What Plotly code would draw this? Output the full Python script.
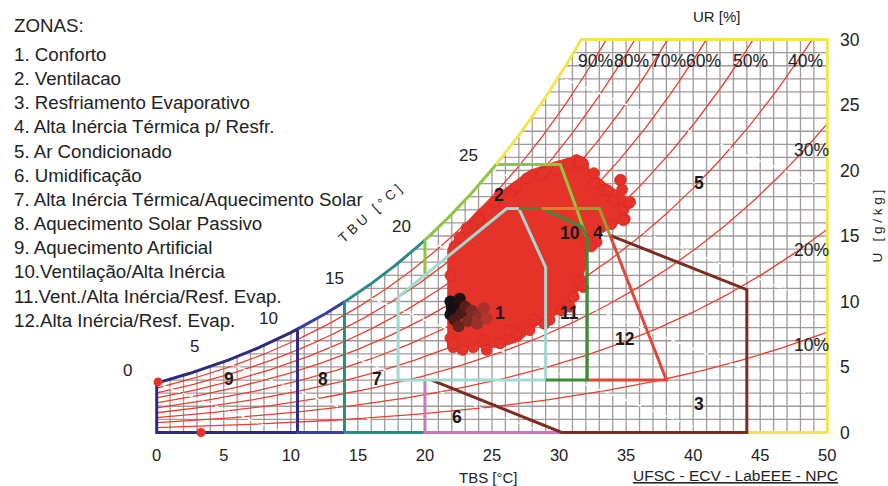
import numpy as np
import plotly.graph_objects as go

# ------------------------------------------------------------------ data
tbs_ticks = [0, 5, 10, 15, 20, 25, 30, 35, 40, 45, 50]
w_ticks = [0, 5, 10, 15, 20, 25, 30]
rh_levels = [10, 20, 30, 40, 50, 60, 70, 80, 90]
tbu_levels = [0, 5, 10, 15, 20, 25, 30]

zone_titles = ["ZONAS:", "1. Conforto", "2. Ventilacao", "3. Resfriamento Evaporativo",
               "4. Alta Inércia Térmica p/ Resfr.", "5. Ar Condicionado", "6. Umidificação",
               "7. Alta Inércia Térmica/Aquecimento Solar", "8. Aquecimento Solar Passivo",
               "9. Aquecimento Artificial", "10.Ventilação/Alta Inércia",
               "11.Vent./Alta Inércia/Resf. Evap.", "12.Alta Inércia/Resf. Evap."]

zone_label_text = ["1", "2", "3", "4", "5", "6", "7", "8", "9", "10", "11", "12"]
zone_label_tbs = [25.6, 25.5, 40.4, 32.9, 40.4, 22.4, 16.4, 12.4, 5.4, 30.8, 30.8, 34.9]
zone_label_w = [9.1, 18.1, 2.2, 15.2, 19.05, 1.2, 4.1, 4.1, 4.1, 15.2, 9.1, 7.1]

# zone boundaries (TBS degC, U g/kg)
zone1_tbs = [18, 18, 26.1, 27.0, 29.0, 29.0, 18]
zone1_w = [4, 10.35, 17.1, 17.1, 12.6, 4, 4]
zone2_left_tbs = [20, 20]
zone2_left_w = [12.0, None]          # second point on saturation
zone2_top_w = 20.45
zone2_right_tbs = [30.1, 31.3, 32.0]
zone2_right_w = [20.45, 17.1, 15.0]
zone10_tbs = [27.0, 28.7, 31.7, 32.1, 32.1, 29.0]
zone10_w = [17.1, 17.1, 15.7, 14.9, 4.0, 4.0]
zone4_tbs = [28.7, 31.3]
zone4_w = [17.1, 17.1]
zone4b_tbs = [31.3, 33.0, 33.8]
zone4b_w = [17.1, 17.1, 15.05]
zone12_tbs = [33.8, 38.0, 32.1]
zone12_w = [15.05, 4.0, 4.0]
zone3_tbs = [33.8, 44.0, 44.0, 30.2, 20.5]
zone3_w = [15.05, 10.9, 0, 0, 4.0]
zone6_tbs = [20, 20, 30.2]
zone6_w = [4.0, 0, 0]
zone9_limit = 10.5
zone8_limit = 14.0
zone7_limit = 20.0

# measured data cloud (outline + scattered points)
cloud_tbs = [21.7, 21.7, 22.4, 23.1, 24.0, 25.2, 26.5, 27.8, 29.5, 30.9, 31.9, 32.3, 33.5,
             35.0, 35.0, 34.5, 32.8, 32.1, 32.1, 31.8, 31.6, 30.8, 29.8, 28.1, 27.1, 25.6, 21.7]
cloud_w = [6.5, 14.0, 15.0, 16.0, 17.0, 18.0, 19.0, 20.0, 20.6, 21.0, 21.0, 20.0, 19.0,
           18.0, 17.0, 16.0, 15.0, 14.0, 13.0, 12.0, 11.0, 10.0, 9.0, 8.0, 7.0, 6.5, 6.5]
dots_tbs = [34.55, 34.7, 34.9, 34.8, 32.8, 32.4, 31.3, 31.8, 30.7, 29.8, 28.6, 27.6, 26.5,
            25.2, 24.1, 23.5, 22.6, 22.2, 26.8, 27.8, 29.3, 25.6, 23.6, 22.1, 31.1, 31.6,
            34.05, 33.3, 32.6, 21.9, 21.9, 22.8, 24.6, 28.9, 30.2, 33.9, 35.2,
            23.1, 24.0, 25.6, 26.8, 28.8, 31.6, 32.6, 33.6, 34.6, 35.3, 34.8, 32.1, 31.8,
            30.8, 28.1, 26.3, 24.35, 22.1]
dots_w = [19.26, 18.55, 16.3, 17.0, 14.55, 14.2, 20.8, 20.5, 20.5, 20.0, 19.6, 19.4, 18.5,
          17.6, 16.3, 15.7, 14.9, 14.2, 7.56, 7.8, 8.6, 6.8, 6.5, 6.5, 10.35, 11.6,
          17.7, 18.5, 19.1, 12.0, 7.2, 6.3, 6.3, 8.3, 9.3, 15.9, 17.5,
          15.6, 16.3, 18.2, 18.75, 19.8, 20.65, 19.8, 18.5, 19.3, 17.6, 16.2, 14.7, 11.1,
          9.6, 8.6, 7.8, 7.05, 6.8]
dark_tbs = [21.9, 22.0, 22.4, 21.9, 22.6, 22.2, 22.7, 23.0, 23.5, 23.2, 22.5, 24.0, 24.4, 23.9, 24.6]
dark_w = [10.0, 9.5, 9.8, 9.0, 10.2, 8.6, 9.1, 9.6, 9.3, 8.5, 8.1, 9.0, 9.5, 8.3, 8.7]
dark_col = ["#111111", "#111111", "#1a1010", "#161010", "#201212", "#4a1a18", "#4a1a18",
            "#5a1e1b", "#7a2a24", "#7a2a24", "#6a2420", "#8e2e27", "#a8322a", "#9a302a", "#b4332a"]
outlier_tbs = [0.1, 3.3]
outlier_w = [3.86, 0.0]

# ------------------------------------------------------------------ psychrometrics
P_ATM = 101.325


def psat(t):
    return 0.61078 * np.exp(17.27 * t / (t + 237.3))


def w_rh(t, rh):
    p = rh / 100.0 * psat(t)
    return 622.0 * p / (P_ATM - p)


def dew_t(w):
    p = w * P_ATM / (622.0 + w)
    a = np.log(p / 0.61078)
    return 237.3 * a / (17.27 - a)


def w_wb(t, tw):
    ws = w_rh(tw, 100) / 1000.0
    return 1000.0 * ((2501 - 2.326 * tw) * ws - 1.006 * (t - tw)) / (2501 + 1.86 * t - 4.186 * tw)


def sat_seg(t0, t1, n=40):
    t = np.linspace(t0, t1, n)
    return list(t), list(w_rh(t, 100))


# ------------------------------------------------------------------ figure
fig = go.Figure()
FONT = "Liberation Sans, Arial, sans-serif"


def line(x, y, color, width=3.0, dash=None):
    fig.add_trace(go.Scatter(x=x, y=y, mode="lines", hoverinfo="skip",
                             line=dict(color=color, width=width, dash=dash)))


# grid
gx, gy = [], []
for k in range(1, 50):
    top = min(float(w_rh(k, 100)), 30.0)
    gx += [k, k, None]
    gy += [0, top, None]
for j in range(1, 30):
    t0 = max(float(dew_t(j)), 0.0)
    gx += [t0, 50, None]
    gy += [j, j, None]
line(gx, gy, "#a19999", 1.3)

# relative humidity curves
rx, ry = [], []
for rh in rh_levels:
    ts = np.arange(0, 50.001, 0.25)
    ws = w_rh(ts, rh)
    keep = ws <= 30
    tt = list(ts[keep])
    ww = list(ws[keep])
    if not keep.all():
        lo, hi = tt[-1], 50.0
        for _ in range(40):
            mid = (lo + hi) / 2
            if w_rh(mid, rh) > 30:
                hi = mid
            else:
                lo = mid
        tt.append(lo)
        ww.append(30.0)
    rx += tt + [None]
    ry += ww + [None]
line(rx, ry, "#e8402f", 1.3)

# wet-bulb lines
bx, by = [], []
for tw in tbu_levels:
    ts = np.arange(tw, 50.001, 0.25)
    ws = w_wb(ts, tw)
    keep = (ws >= 0) & (ws <= 30)
    bx += list(ts[keep]) + [None]
    by += list(ws[keep]) + [None]
line(bx, by, "#ffffff", 1.6, dash="4px,3px")

# data cloud
fig.add_trace(go.Scatter(x=cloud_tbs, y=cloud_w, mode="lines", fill="toself",
                         fillcolor="#e6332a", line=dict(color="#e6332a", width=1),
                         hoverinfo="skip"))
fig.add_trace(go.Scatter(x=dots_tbs, y=dots_w, mode="markers", hoverinfo="skip",
                         marker=dict(size=11, color="#e6332a",
                                     line=dict(color="#cf2a24", width=0.7))))
fig.add_trace(go.Scatter(x=dark_tbs, y=dark_w, mode="markers", hoverinfo="skip",
                         marker=dict(size=12, color=dark_col, line=dict(width=0))))

# zones
NAVY, BLUE, TEAL = "#2e2a7d", "#3a3f9d", "#2a8c86"
LGREEN, DGREEN, CYAN = "#8dc63f", "#3d8b37", "#a2d9d0"
ORANGE, OLIVE, RED = "#e87a2e", "#a09a36", "#e2483a"
BROWN, PINK, YELLOW = "#7e2c22", "#c879be", "#f4e64a"

sx, sy = sat_seg(0, zone9_limit)
line([zone9_limit, 0, 0] + sx + [zone9_limit], [0, 0, float(w_rh(0, 100))] + sy + [0], NAVY)
sx, sy = sat_seg(zone9_limit, zone8_limit)
line([zone9_limit] + sx, [float(w_rh(zone9_limit, 100))] + sy, BLUE)
line([zone9_limit, zone8_limit], [0, 0], BLUE)
line([zone8_limit, zone8_limit], [0, float(w_rh(zone8_limit, 100))], TEAL)
sx, sy = sat_seg(zone8_limit, zone7_limit)
line(sx, sy, TEAL)
line([zone8_limit, zone7_limit], [0, 0], TEAL)

t_top = float(dew_t(zone2_top_w))
sx, sy = sat_seg(zone7_limit, t_top)
line(zone2_left_tbs[:1] + sx + zone2_right_tbs,
     zone2_left_w[:1] + sy + zone2_right_w, LGREEN)

t_30 = float(dew_t(30))
sx, sy = sat_seg(t_top, t_30)
line(sx + [50, 50, 44], sy + [30, 0, 0], YELLOW)

line(zone6_tbs, zone6_w, PINK)
line(zone3_tbs, zone3_w, BROWN)
line(zone12_tbs, zone12_w, RED)
line(zone1_tbs, zone1_w, CYAN)
line(zone10_tbs, zone10_w, DGREEN)
line(zone4_tbs, zone4_w, ORANGE)
line(zone4b_tbs, zone4b_w, OLIVE)

fig.add_trace(go.Scatter(x=outlier_tbs, y=outlier_w, mode="markers", hoverinfo="skip",
                         cliponaxis=False, marker=dict(size=9, color="#e6332a")))

# ------------------------------------------------------------------ layout / text
L, R, T, B = 150.3, 54.3, 32.75, 47.15
W, H = 888, 486
PW, PH = W - L - R, H - T - B


def fx(px):
    return (px - L) / PW


def fy(py):
    return (H - B - py) / PH


ann = []


def text(s, px, py, size, xanchor="center", angle=0, color="#222222"):
    ann.append(dict(text=s, x=fx(px), y=fy(py), xref="paper", yref="paper",
                    xanchor=xanchor, yanchor="middle", showarrow=False, textangle=angle,
                    font=dict(size=size, color=color, family=FONT)))


for i, s in enumerate(zone_titles):
    py = 25 if i == 0 else 54 + 24.2 * (i - 1)
    text(s, 12, py, 18.7, xanchor="left")

for s, x, y in zip(zone_label_text, zone_label_tbs, zone_label_w):
    ann.append(dict(text="<b>" + s + "</b>", x=x, y=y, xref="x", yref="y", showarrow=False,
                    font=dict(size=17.5, color="#1a1a1a", family=FONT)))

rh_lab = [("90%", 595, 61), ("80%", 631.7, 61), ("70%", 668.3, 61), ("60%", 703.3, 61),
          ("50%", 750, 61), ("40%", 805, 61), ("30%", 811.7, 150), ("20%", 811.7, 250),
          ("10%", 811.7, 345)]
for s, px, py in rh_lab:
    text(s, px, py, 17.5)

tbu_lab = [("0", 128, 370), ("5", 195, 346.7), ("10", 268.3, 318.3), ("15", 335, 278.3),
           ("20", 401.7, 226.7), ("25", 468.3, 155)]
for s, px, py in tbu_lab:
    text(s, px, py, 17)

text("UR [%]", 716.7, 16.7, 15)
text("T B U   [ ° C ]", 370, 213, 13.5, angle=-42)
text("U   [ g / k g ]", 877, 226, 13.5, angle=-90)
text("TBS [°C]", 488.3, 477, 15)
text("<u>UFSC - ECV - LabEEE - NPC</u>", 735, 475.5, 15.5)

fig.update_layout(width=W, height=H, margin=dict(l=L, r=R, t=T, b=B, pad=0),
                  paper_bgcolor="white", plot_bgcolor="white", showlegend=False,
                  font=dict(family=FONT, color="#222222"), annotations=ann)
fig.update_xaxes(range=[-0.5, 50.5], tickvals=tbs_ticks, showgrid=False, zeroline=False,
                 showline=False, ticks="", tickfont=dict(size=16.5, color="#222222"),
                 ticklabelstandoff=4)
fig.update_yaxes(range=[-0.5, 30.5], side="right", tickvals=w_ticks, showgrid=False,
                 zeroline=False, showline=False, ticks="",
                 tickfont=dict(size=17.5, color="#222222"), ticklabelstandoff=5)

fig.write_html("out.html", config={"displayModeBar": False, "staticPlot": True},
               post_script="document.body.style.margin='0';document.body.style.overflow='hidden';")
